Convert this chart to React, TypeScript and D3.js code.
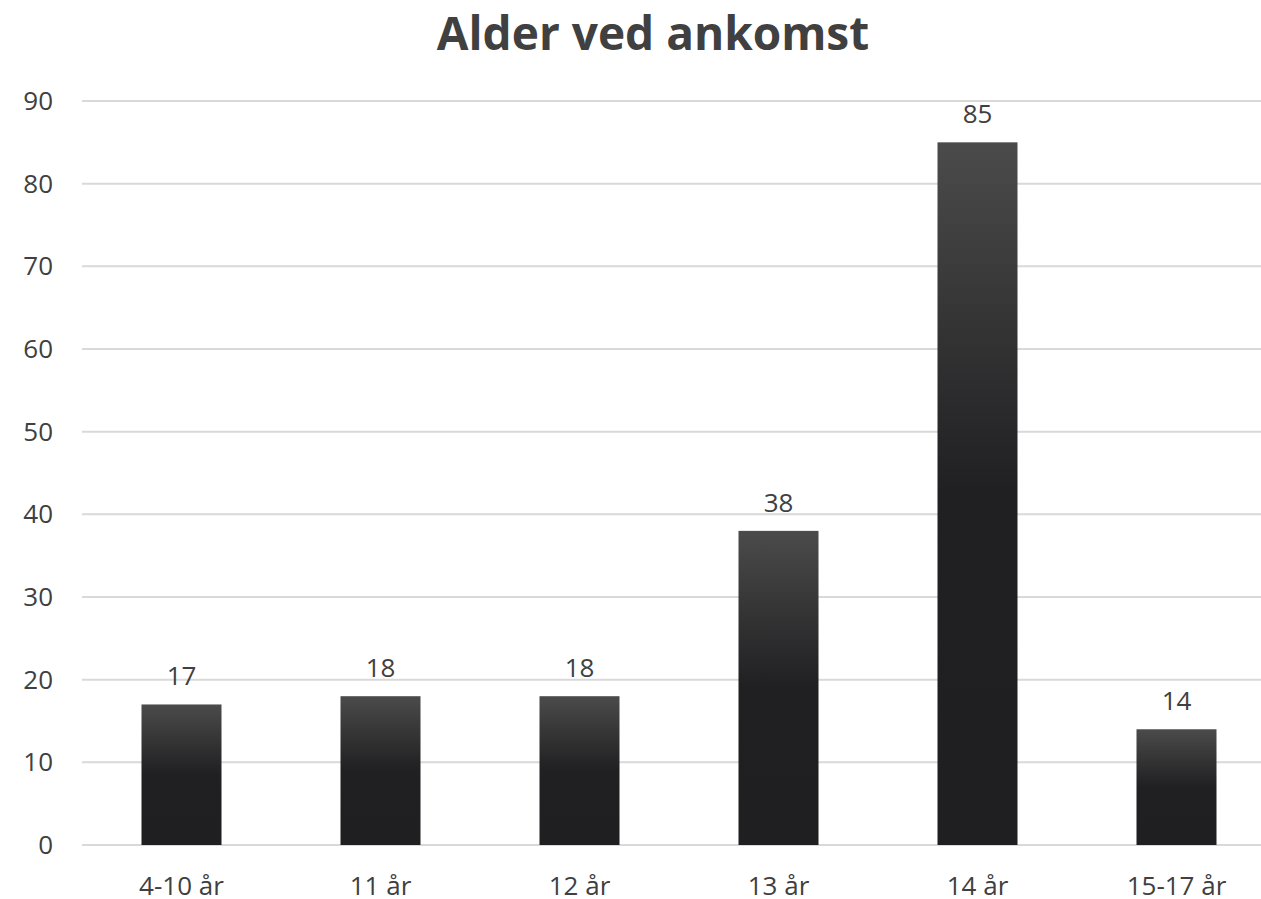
import React from 'react';
import * as d3 from 'd3';

const categories = ['4-10 år', '11 år', '12 år', '13 år', '14 år', '15-17 år'];
const values = [17, 18, 18, 38, 85, 14];
const yTicks = [0, 10, 20, 30, 40, 50, 60, 70, 80, 90];
const title = 'Alder ved ankomst';

const W = 1261;
const H = 899;
const FONT = '"Open Sans", "Noto Sans", sans-serif';

const App = () => {
  const margin = { top: 101, bottom: 54, left: 82 };
  // the plot area runs a little past the right edge of the picture
  const x = d3.scaleBand().domain(categories).range([margin.left, 1276]).paddingInner(0.598).paddingOuter(0.299);
  const y = d3.scaleLinear().domain([0, 90]).range([H - margin.bottom, margin.top]);

  return (
    <svg width={W} height={H} style={{ position: 'absolute', left: 0, top: 0, background: '#fff' }}>
      <defs>
        <linearGradient id="barGrad" x1="0" y1="0" x2="0" y2="1">
          <stop offset="0%" stopColor="#4b4b4b" />
          <stop offset="50%" stopColor="#201f21" />
          <stop offset="100%" stopColor="#1f1e20" />
        </linearGradient>
      </defs>
      <text x={653} y={50} textAnchor="middle" fontFamily={FONT} fontWeight="bold" fontSize={46} fill="#404040">
        {title}
      </text>
      {yTicks.map(t => (
        <g key={t}>
          <line x1={margin.left} x2={W} y1={y(t)} y2={y(t)} stroke="#d9d9d9" strokeWidth={2} />
          <text x={53} y={y(t)} dy="0.35em" textAnchor="end" fontFamily={FONT} fontSize={26} fill="#404040">
            {t}
          </text>
        </g>
      ))}
      {categories.map((c, i) => {
        const bx = x(c)!;
        const cx = bx + x.bandwidth() / 2;
        return (
          <g key={c}>
            <rect x={bx} y={y(values[i])} width={x.bandwidth()} height={y(0) - y(values[i])} fill="url(#barGrad)" />
            <text x={cx} y={y(values[i]) - 19} textAnchor="middle" fontFamily={FONT} fontSize={26} fill="#404040">
              {values[i]}
            </text>
            <text x={cx} y={895} textAnchor="middle" fontFamily={FONT} fontSize={26} fill="#404040">
              {c}
            </text>
          </g>
        );
      })}
    </svg>
  );
};

export default App;
